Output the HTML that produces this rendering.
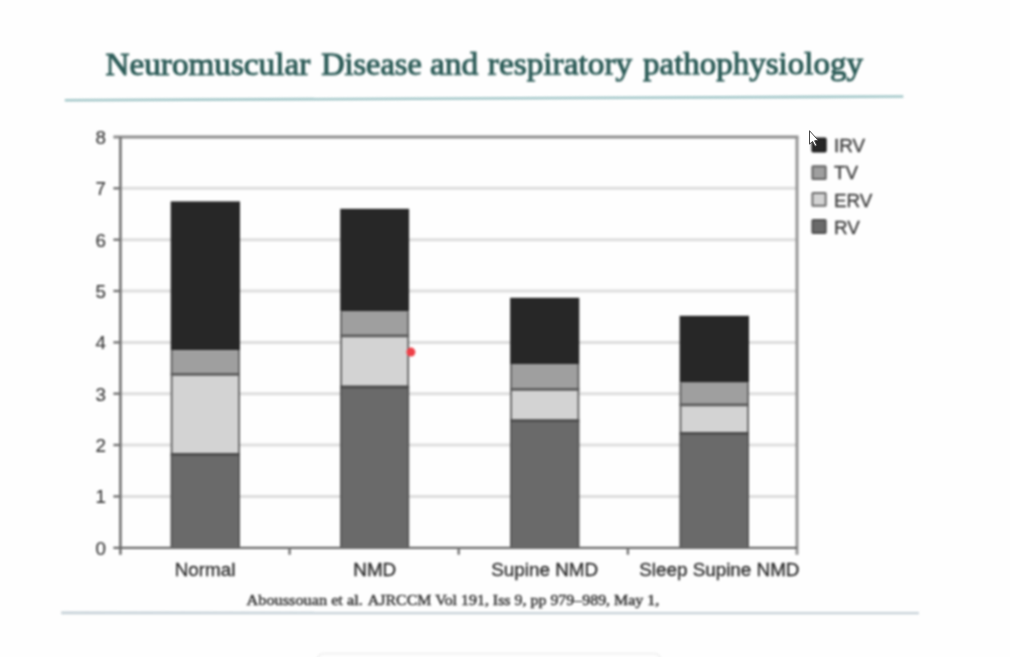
<!DOCTYPE html>
<html lang="en">
<head>
<meta charset="utf-8">
<title>Neuromuscular Disease and respiratory pathophysiology</title>
<style>
html,body{margin:0;padding:0;background:#fefefe;}
body{width:1010px;height:657px;overflow:hidden;position:relative;font-family:"Liberation Sans",sans-serif;}
svg{position:absolute;left:0;top:0;display:block;}
.title{font-family:"Liberation Serif",serif;font-weight:normal;font-size:31.4px;fill:#2d5c58;stroke:#2d5c58;stroke-width:1px;}
.cap{font-family:"Liberation Serif",serif;font-weight:normal;font-size:15.5px;fill:#363636;stroke:#363636;stroke-width:0.5px;}
.ax{font-family:"Liberation Sans",sans-serif;font-size:18.3px;fill:#2c2c2c;stroke:#2c2c2c;stroke-width:0.32px;}
.yl{font-family:"Liberation Sans",sans-serif;font-size:18.8px;fill:#333;stroke:#333;stroke-width:0.12px;}
.lg{font-family:"Liberation Sans",sans-serif;font-size:18px;fill:#3c3c3c;stroke:#3c3c3c;stroke-width:0.3px;}
</style>
</head>
<body>
<svg width="1010" height="657" viewBox="0 0 1010 657">

<rect width="1010" height="657" fill="#fefefe"/>
<g style="filter:blur(0.9px)">

<text class="title" y="74.8" transform="rotate(-0.07 106 75)"><tspan x="105.5" textLength="204.7" lengthAdjust="spacingAndGlyphs">Neuromuscular</tspan> <tspan x="321.2" textLength="100.6" lengthAdjust="spacingAndGlyphs">Disease</tspan> <tspan x="429.9" textLength="48.5" lengthAdjust="spacingAndGlyphs">and</tspan> <tspan x="487.8" textLength="144.4" lengthAdjust="spacingAndGlyphs">respiratory</tspan> <tspan x="643.0" textLength="219.9" lengthAdjust="spacingAndGlyphs">pathophysiology</tspan></text>
<line x1="64.8" y1="100.3" x2="903.3" y2="96.5" stroke="#a3c7c9" stroke-width="2.6"/>
<line x1="61.2" y1="612.9" x2="918.9" y2="613.0" stroke="#c6d1d8" stroke-width="2.6"/>
<line x1="120.4" y1="496.4" x2="797.0" y2="496.4" stroke="#dddddd" stroke-width="3"/>
<line x1="120.4" y1="445.0" x2="797.0" y2="445.0" stroke="#dddddd" stroke-width="3"/>
<line x1="120.4" y1="393.7" x2="797.0" y2="393.7" stroke="#dddddd" stroke-width="3"/>
<line x1="120.4" y1="342.4" x2="797.0" y2="342.4" stroke="#dddddd" stroke-width="3"/>
<line x1="120.4" y1="291.0" x2="797.0" y2="291.0" stroke="#dddddd" stroke-width="3"/>
<line x1="120.4" y1="239.7" x2="797.0" y2="239.7" stroke="#dddddd" stroke-width="3"/>
<line x1="120.4" y1="188.3" x2="797.0" y2="188.3" stroke="#dddddd" stroke-width="3"/>
<line x1="113.4" y1="137.0" x2="798.5" y2="137.0" stroke="#8e8e8e" stroke-width="3.2"/>
<line x1="797.0" y1="137.0" x2="797.0" y2="554.7" stroke="#959595" stroke-width="3"/>
<rect x="170.7" y="201.4" width="69.3" height="148.7" fill="#272727"/>
<rect x="170.7" y="350.1" width="69.3" height="24.3" fill="#9f9f9f"/>
<rect x="170.7" y="374.4" width="69.3" height="79.9" fill="#d3d3d3"/>
<rect x="170.7" y="454.3" width="69.3" height="93.4" fill="#6a6a6a"/>
<line x1="171.6" y1="350.1" x2="171.6" y2="454.3" stroke="#606060" stroke-width="1.8"/>
<line x1="239.1" y1="350.1" x2="239.1" y2="454.3" stroke="#606060" stroke-width="1.8"/>
<line x1="171.6" y1="454.3" x2="171.6" y2="547.7" stroke="#575757" stroke-width="1.8"/>
<line x1="239.1" y1="454.3" x2="239.1" y2="547.7" stroke="#575757" stroke-width="1.8"/>
<line x1="170.7" y1="374.4" x2="240.0" y2="374.4" stroke="#5c5c5c" stroke-width="2.6"/>
<line x1="170.7" y1="454.3" x2="240.0" y2="454.3" stroke="#4c4c4c" stroke-width="2.8"/>
<rect x="340.2" y="208.8" width="68.9" height="102.7" fill="#272727"/>
<rect x="340.2" y="311.5" width="68.9" height="24.4" fill="#9f9f9f"/>
<rect x="340.2" y="335.9" width="68.9" height="51.1" fill="#d3d3d3"/>
<rect x="340.2" y="387.0" width="68.9" height="160.7" fill="#6a6a6a"/>
<line x1="341.1" y1="311.5" x2="341.1" y2="387.0" stroke="#606060" stroke-width="1.8"/>
<line x1="408.2" y1="311.5" x2="408.2" y2="387.0" stroke="#606060" stroke-width="1.8"/>
<line x1="341.1" y1="387.0" x2="341.1" y2="547.7" stroke="#575757" stroke-width="1.8"/>
<line x1="408.2" y1="387.0" x2="408.2" y2="547.7" stroke="#575757" stroke-width="1.8"/>
<line x1="340.2" y1="335.9" x2="409.1" y2="335.9" stroke="#5c5c5c" stroke-width="2.6"/>
<line x1="340.2" y1="387.0" x2="409.1" y2="387.0" stroke="#4c4c4c" stroke-width="2.8"/>
<rect x="510.1" y="297.8" width="69.2" height="66.2" fill="#272727"/>
<rect x="510.1" y="364.0" width="69.2" height="25.4" fill="#9f9f9f"/>
<rect x="510.1" y="389.4" width="69.2" height="31.2" fill="#d3d3d3"/>
<rect x="510.1" y="420.6" width="69.2" height="127.1" fill="#6a6a6a"/>
<line x1="511.0" y1="364.0" x2="511.0" y2="420.6" stroke="#606060" stroke-width="1.8"/>
<line x1="578.4" y1="364.0" x2="578.4" y2="420.6" stroke="#606060" stroke-width="1.8"/>
<line x1="511.0" y1="420.6" x2="511.0" y2="547.7" stroke="#575757" stroke-width="1.8"/>
<line x1="578.4" y1="420.6" x2="578.4" y2="547.7" stroke="#575757" stroke-width="1.8"/>
<line x1="510.1" y1="389.4" x2="579.3" y2="389.4" stroke="#5c5c5c" stroke-width="2.6"/>
<line x1="510.1" y1="420.6" x2="579.3" y2="420.6" stroke="#4c4c4c" stroke-width="2.8"/>
<rect x="679.6" y="315.8" width="69.4" height="66.8" fill="#272727"/>
<rect x="679.6" y="382.6" width="69.4" height="22.3" fill="#9f9f9f"/>
<rect x="679.6" y="404.9" width="69.4" height="28.5" fill="#d3d3d3"/>
<rect x="679.6" y="433.4" width="69.4" height="114.3" fill="#6a6a6a"/>
<line x1="680.5" y1="382.6" x2="680.5" y2="433.4" stroke="#606060" stroke-width="1.8"/>
<line x1="748.1" y1="382.6" x2="748.1" y2="433.4" stroke="#606060" stroke-width="1.8"/>
<line x1="680.5" y1="433.4" x2="680.5" y2="547.7" stroke="#575757" stroke-width="1.8"/>
<line x1="748.1" y1="433.4" x2="748.1" y2="547.7" stroke="#575757" stroke-width="1.8"/>
<line x1="679.6" y1="404.9" x2="749.0" y2="404.9" stroke="#5c5c5c" stroke-width="2.6"/>
<line x1="679.6" y1="433.4" x2="749.0" y2="433.4" stroke="#4c4c4c" stroke-width="2.8"/>
<line x1="120.4" y1="137.0" x2="120.4" y2="554.7" stroke="#727272" stroke-width="2.6"/>
<line x1="113.4" y1="547.9000000000001" x2="797.0" y2="547.9000000000001" stroke="#6a6a6a" stroke-width="2.3"/>
<line x1="113.4" y1="496.4" x2="120.4" y2="496.4" stroke="#727272" stroke-width="2.4"/>
<line x1="113.4" y1="445.0" x2="120.4" y2="445.0" stroke="#727272" stroke-width="2.4"/>
<line x1="113.4" y1="393.7" x2="120.4" y2="393.7" stroke="#727272" stroke-width="2.4"/>
<line x1="113.4" y1="342.4" x2="120.4" y2="342.4" stroke="#727272" stroke-width="2.4"/>
<line x1="113.4" y1="291.0" x2="120.4" y2="291.0" stroke="#727272" stroke-width="2.4"/>
<line x1="113.4" y1="239.7" x2="120.4" y2="239.7" stroke="#727272" stroke-width="2.4"/>
<line x1="113.4" y1="188.3" x2="120.4" y2="188.3" stroke="#727272" stroke-width="2.4"/>
<line x1="289.6" y1="547.7" x2="289.6" y2="554.7" stroke="#727272" stroke-width="2.4"/>
<line x1="458.7" y1="547.7" x2="458.7" y2="554.7" stroke="#727272" stroke-width="2.4"/>
<line x1="627.9" y1="547.7" x2="627.9" y2="554.7" stroke="#727272" stroke-width="2.4"/>
<text class="yl" x="105.9" y="554.5" text-anchor="end">0</text>
<text class="yl" x="105.9" y="503.2" text-anchor="end">1</text>
<text class="yl" x="105.9" y="451.8" text-anchor="end">2</text>
<text class="yl" x="105.9" y="400.5" text-anchor="end">3</text>
<text class="yl" x="105.9" y="349.2" text-anchor="end">4</text>
<text class="yl" x="105.9" y="297.8" text-anchor="end">5</text>
<text class="yl" x="105.9" y="246.5" text-anchor="end">6</text>
<text class="yl" x="105.9" y="195.1" text-anchor="end">7</text>
<text class="yl" x="105.9" y="143.8" text-anchor="end">8</text>
<text class="ax" x="174.7" y="575.9" textLength="60.7" lengthAdjust="spacingAndGlyphs">Normal</text>
<text class="ax" x="353.3" y="575.9" textLength="42.9" lengthAdjust="spacingAndGlyphs">NMD</text>
<text class="ax" x="491.2" y="575.9" textLength="106.9" lengthAdjust="spacingAndGlyphs">Supine NMD</text>
<text class="ax" x="639.2" y="575.9" textLength="160.3" lengthAdjust="spacingAndGlyphs">Sleep Supine NMD</text>
<rect x="812.4" y="138.6" width="13.3" height="12.8" rx="0.6" fill="#272727" stroke="#1e1e1e" stroke-width="2"/>
<text class="lg" x="834.0" y="151.9" textLength="31.1" lengthAdjust="spacingAndGlyphs">IRV</text>
<rect x="812.4" y="166.3" width="13.3" height="12.8" rx="0.6" fill="#9f9f9f" stroke="#646464" stroke-width="2"/>
<text class="lg" x="834.0" y="178.9" textLength="24.1" lengthAdjust="spacingAndGlyphs">TV</text>
<rect x="812.4" y="193.0" width="13.3" height="12.8" rx="0.6" fill="#d3d3d3" stroke="#6e6e6e" stroke-width="2"/>
<text class="lg" x="834.0" y="206.5" textLength="38.4" lengthAdjust="spacingAndGlyphs">ERV</text>
<rect x="812.4" y="220.1" width="13.3" height="12.8" rx="0.6" fill="#6a6a6a" stroke="#505050" stroke-width="2"/>
<text class="lg" x="834.0" y="233.5" textLength="25.8" lengthAdjust="spacingAndGlyphs">RV</text>
<text class="cap" y="604.9"><tspan x="246.5" textLength="116.3" lengthAdjust="spacingAndGlyphs">Aboussouan et al.</tspan> <tspan x="367.8" textLength="291.4" lengthAdjust="spacingAndGlyphs">AJRCCM Vol 191, Iss 9, pp 979–989, May 1,</tspan></text>
<circle cx="410.9" cy="352.1" r="4.5" fill="#ee4048"/>
<rect x="317.5" y="653.6" width="343" height="20" rx="6" fill="#fdfdfd" stroke="#efefef" stroke-width="1.5"/>
</g>
<path d="M809.5 130.7 L809.5 144.1 L812.6 141.5 L815.0 146.2 L816.8 145.3 L814.6 140.8 L818.0 140.2 Z" fill="#ffffff" stroke="#4a4a4a" stroke-width="1" stroke-linejoin="round"/>
</svg>
</body>
</html>
